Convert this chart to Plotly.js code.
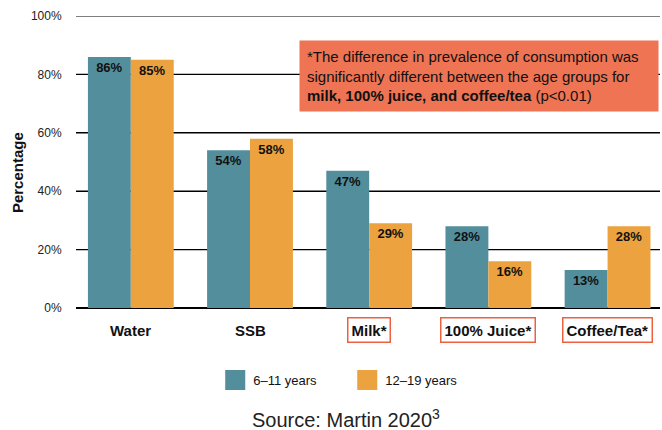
<!DOCTYPE html>
<html>
<head>
<meta charset="utf-8">
<script src="https://cdn.plot.ly/plotly-3.0.1.min.js"></script>
<style>html,body{margin:0;padding:0;background:#fff;}#chart{width:662px;height:430px;}</style>
</head>
<body>
<div id="chart"></div>
<script>
var categories = ["Water", "SSB", "Milk", "100% Juice", "Coffee/Tea"];
var tickLabels = ["Water", "SSB", "Milk*", "100% Juice*", "Coffee/Tea*"];
var significant = [false, false, true, true, true];
var young = [86, 54, 47, 28, 13];   // 6–11 years
var teen = [85, 58, 29, 16, 28];    // 12–19 years
var seriesNames = ["6\u201311 years", "12\u201319 years"];
var yTicks = [0, 20, 40, 60, 80, 100];

var teal = "#528E9C";
var orange = "#ECA23F";
var font = "Liberation Sans, Arial, Helvetica, sans-serif";

function pct(v) { return v.map(function (d) { return d + "%"; }); }

function barTrace(name, vals, color) {
  return {type: "bar", name: name, x: categories, y: vals, text: pct(vals),
    marker: {color: color, line: {width: 0}}, textposition: "inside", insidetextanchor: "end",
    textfont: {family: font, size: 13, color: "#111", weight: "bold"},
    hoverinfo: "none", constraintext: "none"};
}

var traces = [barTrace(seriesNames[0], young, teal), barTrace(seriesNames[1], teen, orange)];

var annotations = categories.map(function (c, i) {
  return {
    xref: "x", yref: "paper", x: c, y: -0.076, yanchor: "middle", xanchor: "center",
    text: "<b>" + tickLabels[i] + "</b>", showarrow: false,
    font: {family: font, size: 15, color: "#111"},
    bordercolor: significant[i] ? "#EE6040" : "rgba(0,0,0,0)", borderwidth: significant[i] ? 1.5 : 0,
    borderpad: 3
  };
});

annotations.push({
  xref: "paper", yref: "paper", x: 0.382, y: 0.918, xanchor: "left", yanchor: "top",
  align: "left", showarrow: false,
  text: "*The difference in prevalence of consumption was<br>significantly different between the age groups for<br><b>milk, 100% juice, and coffee/tea</b> (p&lt;0.01)",
  font: {family: font, size: 15, color: "#111"},
  bgcolor: "#EE7453", borderpad: 7, width: 344
});

annotations.push({
  xref: "paper", yref: "paper", x: -0.101, y: 0.462, xanchor: "center", yanchor: "middle",
  textangle: -90, showarrow: false, text: "<b>Percentage</b>",
  font: {family: font, size: 15, color: "#111"}
});

annotations.push({
  xref: "paper", yref: "paper", x: 0.462, y: -0.377, xanchor: "center", yanchor: "middle",
  showarrow: false, text: "Source: Martin 2020<sup>3</sup>",
  font: {family: font, size: 20, color: "#222"}
});

// horizontal gridlines at the tick values, drawn beneath the bars
var shapes = yTicks.filter(function (v) { return v > 0; }).map(function (v) {
  return {type: "line", xref: "paper", yref: "y", x0: 0, x1: 1, y0: v, y1: v,
          line: {color: "#000", width: 1.2}, layer: "below"};
});

var layout = {
  width: 662, height: 430,
  margin: {l: 76, r: 2, t: 16, b: 122},
  paper_bgcolor: "#fff", plot_bgcolor: "#fff",
  barmode: "group", bargap: 0.28, bargroupgap: 0,
  showlegend: true,
  legend: {orientation: "h", x: 0.235, y: -0.247, xanchor: "left", yanchor: "middle",
           font: {family: font, size: 13, color: "#111"}, traceorder: "normal",
           entrywidth: 87, entrywidthmode: "pixels"},
  xaxis: {type: "category", range: [-0.46, 4.44], showticklabels: false, showgrid: false,
          zeroline: false, showline: false, ticks: "", fixedrange: true},
  yaxis: {range: [0, 100], tickmode: "array", tickvals: yTicks,
          ticktext: yTicks.map(function (v) { return v + "%"; }),
          showgrid: true, gridcolor: "#000000", gridwidth: 1,
          zeroline: true, zerolinecolor: "#000000", zerolinewidth: 2.5,
          ticks: "outside", ticklen: 11, tickcolor: "rgba(255,255,255,0)",
          tickfont: {family: font, size: 12, color: "#222"}, showline: false,
          fixedrange: true},
  shapes: shapes,
  annotations: annotations,
  font: {family: font}
};

Plotly.newPlot("chart", traces, layout, {displayModeBar: false, staticPlot: true}).then(function (gd) {
  var pts = gd.querySelectorAll(".legend .legendpoints path");
  pts.forEach(function (p) {
    var t = p.getAttribute("transform") || "";
    p.setAttribute("transform", t + " translate(2,0) scale(1.67)");
  });
});
</script>
</body>
</html>
